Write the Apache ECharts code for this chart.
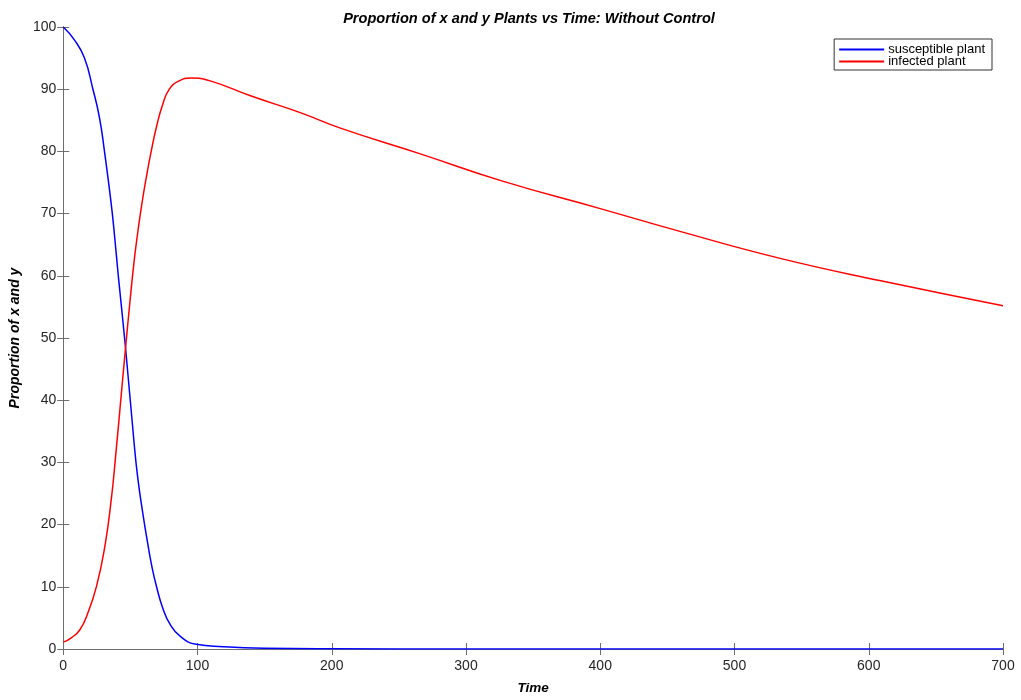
<!DOCTYPE html>
<html>
<head>
<meta charset="utf-8">
<script src="https://cdn.jsdelivr.net/npm/echarts@6/dist/echarts.min.js"></script>
<style>
  html, body { margin: 0; padding: 0; background: #fff; }
  #main { width: 1021px; height: 700px; }
</style>
</head>
<body>
<div id="main"></div>
<script>
// values
var susTime = [0, 8.4, 15.8, 22.1, 27, 30.7, 35.7, 38.4, 41, 46.4, 52.4, 55.5, 59.5, 62.5, 65.7, 69.5, 74.4, 79.5, 86.8, 99, 119, 150, 200, 300, 400, 500, 600, 700];
var susVal = [100, 97.9, 95, 90, 85.4, 80, 71.6, 66, 60, 48.4, 34, 27.5, 21.5, 17.5, 13.6, 10, 6.4, 4, 2.1, 0.75, 0.37, 0.12, 0.03, 0, 0, 0, 0, 0];

var infTime = [0, 6, 12.4, 18, 24.8, 31, 36, 39, 42, 44.5, 46.4, 49.3, 52.6, 55.5, 58.5, 62, 65.5, 69.5, 74, 79, 86, 95, 110, 140, 177, 207, 266, 326, 400, 460, 534, 609, 700];
var infVal = [1.1, 1.8, 3.1, 5.6, 10.1, 16.5, 24.5, 31, 38, 44, 48.4, 55, 62, 67, 71.5, 76, 80, 84, 87.5, 90, 91.3, 91.8, 91.3, 88.9, 86.2, 83.7, 79.6, 75.3, 70.8, 67.1, 62.8, 59.2, 55.2];

var seriesNames = ['susceptible plant', 'infected plant'];

function pairs(t, v) {
  return t.map(function (x, i) { return [x, v[i]]; });
}

var font = '"Liberation Sans", Arial, sans-serif';
var axisGrey = '#6e6e6e';

var chart = echarts.init(document.getElementById('main'));
chart.setOption({
  backgroundColor: '#fff',
  animation: false,
  title: {
    text: 'Proportion of x and y Plants vs Time: Without Control',
    left: 524, textAlign: 'center', top: 6,
    textStyle: { fontFamily: font, fontSize: 14.6, fontWeight: 'bold', fontStyle: 'italic', color: '#000' }
  },
  legend: {
    data: seriesNames,
    orient: 'vertical',
    right: 29, top: 39,
    padding: [4, 7, 2, 5],
    itemGap: -1,
    itemWidth: 45,
    itemHeight: 2,
    icon: 'rect',
    borderColor: '#333',
    borderWidth: 1,
    borderRadius: 0,
    backgroundColor: '#fff',
    textStyle: { fontFamily: font, fontSize: 13, color: '#000', padding: [0, 0, 0, -1] }
  },
  grid: { left: 62, right: 18, top: 27, bottom: 47 },
  xAxis: [{
    type: 'value', min: 0, max: 700, interval: 100,
    name: 'Time', nameLocation: 'middle', nameGap: 32,
    nameTextStyle: { fontFamily: font, fontSize: 13.5, fontWeight: 'bold', fontStyle: 'italic', color: '#000' },
    axisLine: { show: true, onZero: false, lineStyle: { color: axisGrey } },
    axisTick: { show: true, inside: true, length: 6, lineStyle: { color: axisGrey } },
    axisLabel: { fontFamily: font, fontSize: 14, color: '#262626', margin: 10 },
    splitLine: { show: false }
  }, {
    type: 'value', min: 0, max: 700, interval: 100, position: 'top',
    axisLine: { show: true, lineStyle: { color: axisGrey } },
    axisTick: { show: true, inside: true, length: 6, lineStyle: { color: axisGrey } },
    axisLabel: { show: false },
    splitLine: { show: false }
  }],
  yAxis: [{
    type: 'value', min: 0, max: 100, interval: 10,
    name: 'Proportion of x and y', nameLocation: 'middle', nameGap: 37,
    nameTextStyle: { fontFamily: font, fontSize: 14, fontWeight: 'bold', fontStyle: 'italic', color: '#000' },
    axisLine: { show: true, onZero: false, lineStyle: { color: axisGrey } },
    axisTick: { show: true, inside: true, length: 6, lineStyle: { color: axisGrey } },
    axisLabel: { fontFamily: font, fontSize: 14, color: '#262626', margin: 7 },
    splitLine: { show: false }
  }, {
    type: 'value', min: 0, max: 100, interval: 10, position: 'right',
    axisLine: { show: true, lineStyle: { color: axisGrey } },
    axisTick: { show: true, inside: true, length: 6, lineStyle: { color: axisGrey } },
    axisLabel: { show: false },
    splitLine: { show: false }
  }],
  series: [{
    name: seriesNames[0],
    type: 'line',
    data: pairs(susTime, susVal),
    smooth: 0.5,
    symbol: 'none',
    color: '#0000ff',
    lineStyle: { width: 1.5, color: '#0000ff' }
  }, {
    name: seriesNames[1],
    type: 'line',
    data: pairs(infTime, infVal),
    smooth: 0.5,
    symbol: 'none',
    color: '#ff0000',
    lineStyle: { width: 1.5, color: '#ff0000' }
  }]
});
</script>
</body>
</html>
